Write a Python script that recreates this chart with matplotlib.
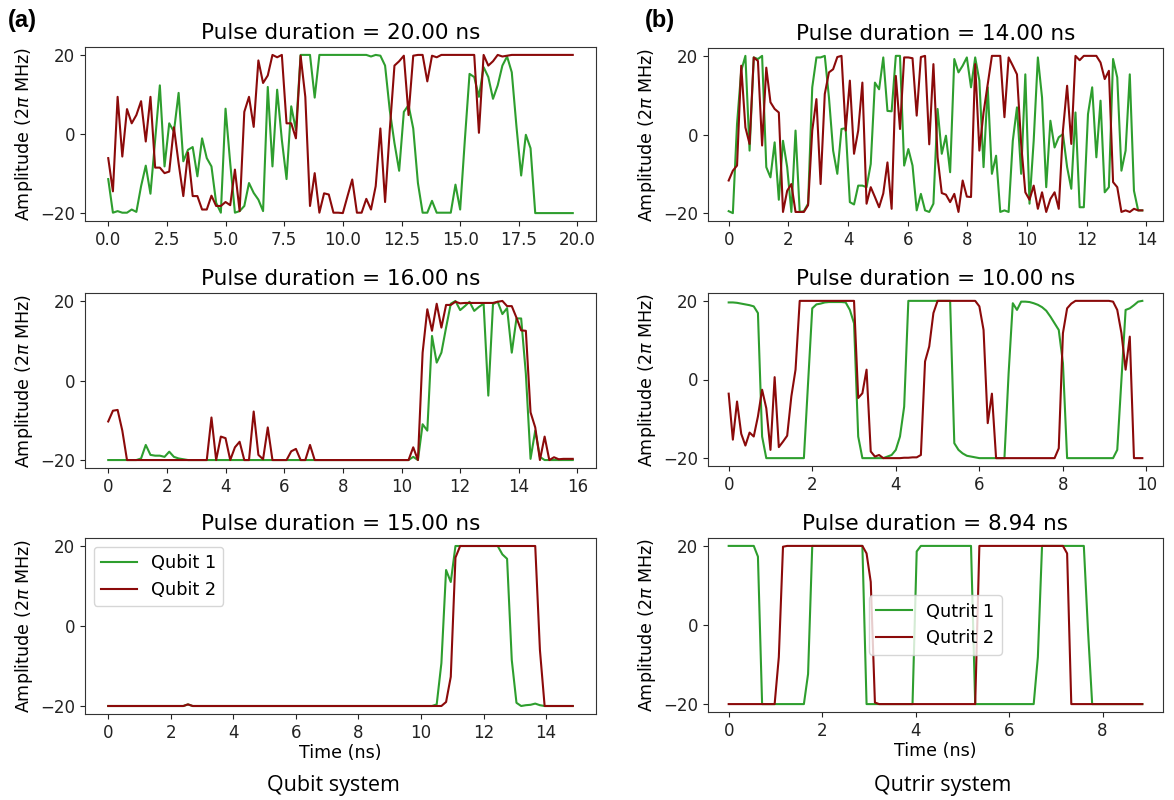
import numpy as np
import matplotlib
matplotlib.use("Agg")
import matplotlib.pyplot as plt

# ---------------------------------------------------------------------------
# Data (100 samples per pulse)
# ---------------------------------------------------------------------------

N_SAMPLES = 100

# (a) qubit system
DUR_A1 = 20.0
A1_Q1 = [
    -11.4, -19.9, -19.5, -19.9, -19.9, -19.1, -19.7, -13.2, -8.0, -15.1,
    -1.5, 12.3, -8.2, 2.7, 0.6, 10.4, -6.9, -4.0, -3.3, -10.7,
    -1.1, -6.1, -8.2, -17.4, -19.9, 6.4, -7.4, -19.9, -19.5, -18.2,
    -12.4, -14.9, -16.6, -19.5, 11.9, -8.2, 11.2, -1.5, -11.4, 7.0,
    1.0, 20.0, 20.0, 20.0, 9.2, 20.0, 20.0, 20.0, 20.0, 20.0,
    20.0, 20.0, 20.0, 20.0, 20.0, 20.0, 19.6, 20.0, 19.8, 17.3,
    6.0, -2.3, -9.3, 5.6, 7.3, 1.4, -12.4, -19.9, -19.9, -16.9,
    -19.9, -19.9, -19.9, -19.9, -12.8, -19.1, -1.5, 15.2, 14.4, 9.4,
    16.9, 14.4, 8.9, 12.3, 17.3, 19.6, 15.6, 1.9, -10.5, -0.2,
    -3.6, -20.0, -20.0, -20.0, -20.0, -20.0, -20.0, -20.0, -20.0, -20.0,
]
A1_Q2 = [
    -6.1, -14.5, 9.4, -5.7, 6.3, 2.7, 4.8, 8.3, -1.9, 9.4,
    -8.5, -8.5, -9.9, -9.5, 1.7, -7.4, -15.7, -4.7, -15.7, -15.7,
    -19.1, -19.1, -15.6, -18.2, -18.2, -17.2, -18.0, -9.0, -19.5, 5.6,
    9.4, 1.8, 18.6, 12.9, 14.8, 20.0, 19.4, 20.0, 2.7, 2.7,
    -1.1, 19.8, 9.4, -18.2, -9.9, -19.9, -15.0, -15.3, -19.9, -19.9,
    -20.0, -15.7, -11.5, -19.9, -19.9, -16.4, -19.1, -13.2, 1.4, -17.2,
    1.0, 17.3, 18.4, 19.8, 4.8, 19.8, 20.0, 20.0, 13.3, 19.8,
    19.4, 20.0, 20.0, 20.0, 20.0, 20.0, 20.0, 20.0, 20.0, 0.3,
    20.0, 17.3, 18.4, 20.0, 19.6, 19.8, 20.0, 20.0, 20.0, 20.0,
    20.0, 20.0, 20.0, 20.0, 20.0, 20.0, 20.0, 20.0, 20.0, 20.0,
]

DUR_A2 = 16.0
A2_Q1 = [
    -20.0, -20.0, -20.0, -20.0, -20.0, -20.0, -20.0, -19.6, -16.2, -18.7,
    -18.9, -18.9, -19.2, -17.9, -19.2, -19.6, -19.8, -20.0, -20.0, -20.0,
    -20.0, -20.0, -20.0, -20.0, -20.0, -20.0, -20.0, -20.0, -20.0, -20.0,
    -20.0, -20.0, -20.0, -20.0, -20.0, -20.0, -20.0, -20.0, -20.0, -20.0,
    -20.0, -20.0, -20.0, -20.0, -20.0, -20.0, -20.0, -20.0, -20.0, -20.0,
    -20.0, -20.0, -20.0, -20.0, -20.0, -20.0, -20.0, -20.0, -20.0, -20.0,
    -20.0, -20.0, -20.0, -20.0, -20.0, -19.2, -20.0, -11.0, -12.6, 11.2,
    4.5, 7.0, 13.3, 19.3, 20.0, 17.7, 18.7, 19.8, 17.5, 18.5,
    19.3, -3.8, 19.2, 19.8, 16.7, 18.2, 7.0, 15.6, 15.6, 1.7,
    -19.7, -12.6, -19.2, -20.0, -20.0, -20.0, -20.0, -20.0, -20.0, -20.0,
]
A2_Q2 = [
    -10.3, -7.6, -7.4, -12.6, -20.0, -20.0, -20.0, -20.0, -20.0, -20.0,
    -20.0, -20.0, -20.0, -20.0, -20.0, -20.0, -20.0, -20.0, -20.0, -20.0,
    -20.0, -20.0, -9.3, -20.0, -14.1, -14.5, -20.0, -16.8, -15.4, -20.0,
    -20.0, -7.8, -18.7, -19.8, -11.8, -20.0, -20.0, -20.0, -20.0, -17.8,
    -17.2, -20.0, -20.0, -16.2, -20.0, -20.0, -20.0, -20.0, -20.0, -20.0,
    -20.0, -20.0, -20.0, -20.0, -20.0, -20.0, -20.0, -20.0, -20.0, -20.0,
    -20.0, -20.0, -20.0, -20.0, -20.0, -16.8, -20.0, 7.0, 17.9, 12.5,
    19.3, 13.3, 19.0, 19.0, 19.8, 19.4, 19.5, 19.5, 19.5, 19.5,
    19.5, 19.5, 19.5, 19.8, 20.0, 18.7, 18.7, 15.8, 12.6, 12.5,
    -8.0, -11.8, -20.0, -14.1, -20.0, -19.3, -19.8, -19.7, -19.7, -19.7,
]

DUR_A3 = 15.0
A3_Q1 = [
    -20.0, -20.0, -20.0, -20.0, -20.0, -20.0, -20.0, -20.0, -20.0, -20.0,
    -20.0, -20.0, -20.0, -20.0, -20.0, -20.0, -20.0, -19.6, -20.0, -20.0,
    -20.0, -20.0, -20.0, -20.0, -20.0, -20.0, -20.0, -20.0, -20.0, -20.0,
    -20.0, -20.0, -20.0, -20.0, -20.0, -20.0, -20.0, -20.0, -20.0, -20.0,
    -20.0, -20.0, -20.0, -20.0, -20.0, -20.0, -20.0, -20.0, -20.0, -20.0,
    -20.0, -20.0, -20.0, -20.0, -20.0, -20.0, -20.0, -20.0, -20.0, -20.0,
    -20.0, -20.0, -20.0, -20.0, -20.0, -20.0, -20.0, -20.0, -20.0, -20.0,
    -19.6, -9.3, 14.0, 11.0, 20.0, 20.0, 20.0, 20.0, 20.0, 20.0,
    20.0, 20.0, 20.0, 20.0, 17.9, 16.8, -8.5, -19.2, -20.0, -19.8,
    -19.7, -19.4, -19.8, -20.0, -20.0, -20.0, -20.0, -20.0, -20.0, -20.0,
]
A3_Q2 = [
    -20.0, -20.0, -20.0, -20.0, -20.0, -20.0, -20.0, -20.0, -20.0, -20.0,
    -20.0, -20.0, -20.0, -20.0, -20.0, -20.0, -20.0, -19.6, -20.0, -20.0,
    -20.0, -20.0, -20.0, -20.0, -20.0, -20.0, -20.0, -20.0, -20.0, -20.0,
    -20.0, -20.0, -20.0, -20.0, -20.0, -20.0, -20.0, -20.0, -20.0, -20.0,
    -20.0, -20.0, -20.0, -20.0, -20.0, -20.0, -20.0, -20.0, -20.0, -20.0,
    -20.0, -20.0, -20.0, -20.0, -20.0, -20.0, -20.0, -20.0, -20.0, -20.0,
    -20.0, -20.0, -20.0, -20.0, -20.0, -20.0, -20.0, -20.0, -20.0, -20.0,
    -20.0, -20.0, -19.0, -12.7, 17.1, 20.0, 20.0, 20.0, 20.0, 20.0,
    20.0, 20.0, 20.0, 20.0, 20.0, 20.0, 20.0, 20.0, 20.0, 20.0,
    20.0, 20.0, -6.0, -20.0, -20.0, -20.0, -20.0, -20.0, -20.0, -20.0,
]

# (b) qutrit system
DUR_B1 = 14.0
B1_Q1 = [
    -19.5, -20.0, 2.7, 16.2, 20.0, -4.1, 19.6, 19.2, 20.0, -8.3,
    -10.9, -2.0, -16.6, -1.6, -8.3, -19.7, 1.0, -19.7, -19.5, -17.6,
    12.0, 19.6, 19.6, 20.0, 9.4, -4.1, -10.0, 1.4, 1.6, -17.2,
    -17.8, -13.0, -13.0, -13.4, -7.5, 13.2, 11.5, 19.6, 6.0, 5.9,
    20.0, 20.0, -7.9, -3.7, -7.9, -19.3, -15.1, -19.3, -19.7, -17.6,
    6.5, -4.9, -0.3, -9.6, 19.2, 15.8, 17.5, 19.6, 12.0, 19.6,
    13.7, -8.3, 12.0, -10.0, -5.4, -19.7, -19.3, -19.7, -1.6, 6.9,
    -10.0, 15.3, -17.6, -1.6, 19.6, 9.4, -13.4, 3.5, -3.3, -0.7,
    0.1, -8.3, -13.8, 5.6, -18.5, -18.5, 5.2, 12.0, -5.8, 8.6,
    -14.7, -13.4, 19.2, 14.5, -9.2, -4.1, 15.3, -14.3, -19.3, -19.3,
]
B1_Q2 = [
    -11.7, -9.2, -7.9, 17.5, 1.8, -2.4, 19.6, 18.7, -2.8, 17.0,
    8.2, 6.5, 5.6, -19.7, -14.3, -12.6, -19.7, -19.7, -19.7, -18.0,
    1.0, 9.0, -12.6, 10.3, 15.8, 16.6, 19.7, 20.0, 1.0, 13.7,
    -4.9, 1.0, 13.2, -17.6, -13.4, -15.9, -18.5, -15.0, -7.1, -18.9,
    14.9, 1.4, 19.6, 19.6, 19.4, 4.8, 19.7, 20.0, -2.5, 17.9,
    -5.8, -14.9, -15.3, -17.2, -15.1, -19.7, -11.7, -15.8, -15.9, 17.9,
    -4.1, 5.6, 12.8, 20.0, 20.0, 20.0, 4.4, 19.6, 17.5, 15.3,
    -2.4, -14.7, -16.6, -13.0, -18.9, -14.7, -19.7, -16.4, -14.7, -18.9,
    1.0, 12.4, -2.4, 20.0, 18.9, 20.0, 20.0, 20.0, 20.0, 18.3,
    14.1, 16.2, -12.1, -13.4, -19.7, -19.3, -19.7, -18.9, -19.3, -19.3,
]

DUR_B2 = 10.0
B2_Q1 = [
    19.6, 19.6, 19.5, 19.3, 19.1, 18.9, 18.6, 16.9, -14.5, -20.0,
    -20.0, -20.0, -20.0, -20.0, -20.0, -20.0, -20.0, -20.0, -20.0, -0.9,
    18.1, 19.1, 19.3, 19.6, 19.7, 19.7, 19.7, 19.7, 19.6, 17.7,
    14.3, -14.5, -20.0, -20.0, -20.0, -20.0, -20.0, -20.0, -19.6, -19.2,
    -17.9, -14.5, -6.9, 20.0, 20.0, 20.0, 20.0, 20.0, 20.0, 20.0,
    20.0, 20.0, 20.0, 20.0, -16.2, -17.9, -18.8, -19.4, -19.6, -19.8,
    -20.0, -20.0, -20.0, -20.0, -20.0, -20.0, -20.0, 1.6, 19.4, 17.7,
    19.8, 19.8, 19.7, 19.4, 19.0, 18.4, 17.5, 16.0, 14.3, 12.6,
    4.2, -20.0, -20.0, -20.0, -20.0, -20.0, -20.0, -20.0, -20.0, -20.0,
    -20.0, -20.0, -20.0, -17.9, -0.1, 17.7, 18.1, 18.9, 19.8, 20.0,
]
B2_Q2 = [
    -3.6, -15.3, -5.6, -13.8, -16.8, -13.5, -14.5, -9.4, -2.6, -7.3,
    -17.9, 0.6, -17.2, -15.8, -14.3, -4.3, 2.5, 20.0, 20.0, 20.0,
    20.0, 20.0, 20.0, 20.0, 20.0, 20.0, 20.0, 20.0, 20.0, 20.0,
    20.0, -4.7, -3.5, 2.5, -18.3, -19.6, -19.2, -20.0, -20.0, -20.0,
    -20.0, -20.0, -19.9, -19.9, -19.8, -19.8, -19.2, 4.6, 8.4, 16.9,
    20.0, 20.0, 20.0, 20.0, 20.0, 20.0, 20.0, 20.0, 20.0, 20.0,
    18.6, 12.6, -11.1, -3.6, -20.0, -20.0, -20.0, -20.0, -20.0, -20.0,
    -20.0, -20.0, -20.0, -20.0, -20.0, -20.0, -20.0, -20.0, -20.0, -17.5,
    11.8, 18.1, 19.3, 20.0, 20.0, 20.0, 20.0, 20.0, 20.0, 20.0,
    20.0, 20.0, 19.8, 17.7, 11.8, 2.5, 10.9, -20.0, -20.0, -20.0,
]

DUR_B3 = 8.94
B3_Q1 = [
    20.0, 20.0, 20.0, 20.0, 20.0, 20.0, 20.0, 17.3, -20.0, -20.0,
    -20.0, -20.0, -20.0, -20.0, -20.0, -20.0, -20.0, -20.0, -20.0, -12.4,
    20.0, 20.0, 20.0, 20.0, 20.0, 20.0, 20.0, 20.0, 20.0, 20.0,
    20.0, 20.0, 20.0, -20.0, -20.0, -20.0, -20.0, -20.0, -20.0, -20.0,
    -20.0, -20.0, -20.0, -20.0, -20.0, 18.6, 20.0, 20.0, 20.0, 20.0,
    20.0, 20.0, 20.0, 20.0, 20.0, 20.0, 20.0, 20.0, 20.0, -20.0,
    -20.0, -20.0, -20.0, -20.0, -20.0, -20.0, -20.0, -20.0, -20.0, -20.0,
    -20.0, -20.0, -20.0, -20.0, -8.1, 20.0, 20.0, 20.0, 20.0, 20.0,
    20.0, 20.0, 20.0, 20.0, 20.0, 20.0, -1.4, -20.0, -20.0, -20.0,
    -20.0, -20.0, -20.0, -20.0, -20.0, -20.0, -20.0, -20.0, -20.0, -20.0,
]
B3_Q2 = [
    -20.0, -20.0, -20.0, -20.0, -20.0, -20.0, -20.0, -20.0, -20.0, -20.0,
    -20.0, -20.0, -8.1, 19.8, 20.0, 20.0, 20.0, 20.0, 20.0, 20.0,
    20.0, 20.0, 20.0, 20.0, 20.0, 20.0, 20.0, 20.0, 20.0, 20.0,
    20.0, 20.0, 20.0, 18.1, 10.9, -19.6, -20.0, -20.0, -20.0, -20.0,
    -20.0, -20.0, -20.0, -20.0, -20.0, -20.0, -20.0, -20.0, -20.0, -20.0,
    -20.0, -20.0, -20.0, -20.0, -20.0, -20.0, -20.0, -20.0, -20.0, -20.0,
    20.0, 20.0, 20.0, 20.0, 20.0, 20.0, 20.0, 20.0, 20.0, 20.0,
    20.0, 20.0, 20.0, 20.0, 20.0, 20.0, 20.0, 20.0, 20.0, 20.0,
    20.0, 18.1, -20.0, -20.0, -20.0, -20.0, -20.0, -20.0, -20.0, -20.0,
    -20.0, -20.0, -20.0, -20.0, -20.0, -20.0, -20.0, -20.0, -20.0, -20.0,
]

LEGEND_A = ["Qubit 1", "Qubit 2"]
LEGEND_B = ["Qutrit 1", "Qutrit 2"]

GREEN = "#2e9e2e"
RED = "#8b0a0a"

# ---------------------------------------------------------------------------
# Layout (axes rectangles in figure fraction, measured from the reference)
# ---------------------------------------------------------------------------

W, H = 1174, 800


def rect(left, top, right, bottom):
    return [left / W, 1 - bottom / H, (right - left) / W, (bottom - top) / H]


PANELS = [
    # (rect, duration, q1, q2, legend labels, legend loc, xlabel)
    (rect(85, 47, 596, 221), DUR_A1, A1_Q1, A1_Q2, None, None, False),
    (rect(85, 293, 596, 468), DUR_A2, A2_Q1, A2_Q2, None, None, False),
    (rect(85, 538, 596, 714), DUR_A3, A3_Q1, A3_Q2, LEGEND_A, "upper left", True),
    (rect(708, 48, 1163, 221), DUR_B1, B1_Q1, B1_Q2, None, None, False),
    (rect(708, 293, 1163, 466), DUR_B2, B2_Q1, B2_Q2, None, None, False),
    (rect(708, 538, 1163, 712), DUR_B3, B3_Q1, B3_Q2, LEGEND_B, "center", True),
]

plt.rcParams["font.family"] = "DejaVu Sans"
plt.rcParams["axes.edgecolor"] = "#333333"
plt.rcParams["xtick.color"] = "#222222"
plt.rcParams["ytick.color"] = "#222222"

fig = plt.figure(figsize=(W / 100, H / 100), dpi=100)

for r, dur, q1, q2, labels, loc, xlab in PANELS:
    ax = fig.add_axes(r)
    t = np.arange(N_SAMPLES) * dur / N_SAMPLES
    ax.plot(t, q1, color=GREEN, lw=1.5, label=labels[0] if labels else None)
    ax.plot(t, q2, color=RED, lw=1.5, label=labels[1] if labels else None)
    ax.set_yticks([-20, 0, 20])
    ax.tick_params(labelsize=12)
    ax.set_ylabel(r"Amplitude (2$\pi$ MHz)", fontsize=12.6, labelpad=4)
    ax.set_title(f"Pulse duration = {dur:.2f} ns", fontsize=15.5)
    if xlab:
        ax.set_xlabel("Time (ns)", fontsize=12.6, labelpad=2)
    if labels:
        ax.legend(loc=loc, fontsize=12.8)

fig.text(8 / W, 1 - 21 / H, "(a)", fontsize=17, fontweight="bold",
         family="Liberation Sans", ha="left", va="center")
fig.text(645 / W, 1 - 21 / H, "(b)", fontsize=17, fontweight="bold",
         family="Liberation Sans", ha="left", va="center")
fig.text(333 / W, 1 - 786 / H, "Qubit system", fontsize=15.5,
         family="Open Sans", ha="center", va="center")
fig.text(943 / W, 1 - 786 / H, "Qutrir system", fontsize=15.5,
         family="Open Sans", ha="center", va="center")

fig.savefig("out.png", dpi=100)
